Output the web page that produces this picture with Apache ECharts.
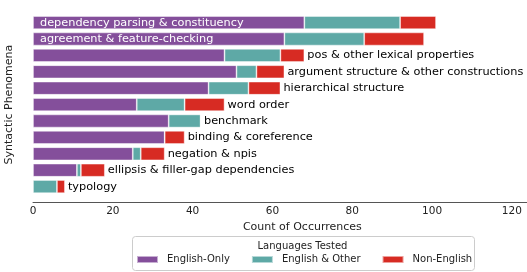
<!DOCTYPE html>
<html>
<head>
<meta charset="utf-8">
<script src="https://cdn.jsdelivr.net/npm/echarts@6/dist/echarts.min.js"></script>
<style>html,body{margin:0;padding:0;background:#fff}#c{width:527px;height:272px}</style>
</head>
<body>
<div id="c"></div>
<script>
const categories = [
  "dependency parsing & constituency",
  "agreement & feature-checking",
  "pos & other lexical properties",
  "argument structure & other constructions",
  "hierarchical structure",
  "word order",
  "benchmark",
  "binding & coreference",
  "negation & npis",
  "ellipsis & filler-gap dependencies",
  "typology"
];
const englishOnly  = [68, 63, 48, 51, 44, 26, 34, 33, 25, 11, 0];
const englishOther = [24, 20, 14, 5, 10, 12, 8, 0, 2, 1, 6];
const nonEnglish   = [9, 15, 6, 7, 8, 10, 0, 5, 6, 6, 2];
const seriesNames = ["English-Only", "English & Other", "Non-English"];
const xTicks = [0, 20, 40, 60, 80, 100, 120];
const insideLabelCount = 2;

const FONT = "DejaVu Sans";
const colors = ["#844f9b", "#5ea9a6", "#d72b23"];

const chart = echarts.init(document.getElementById('c'), null, {renderer: 'canvas'});

const purpleData = englishOnly.map((v, i) => ({
  value: v,
  label: i < insideLabelCount ? {
    show: true, position: 'insideLeft', distance: 7, color: '#fff',
    fontFamily: FONT, fontSize: 11.3, formatter: () => categories[i]
  } : {show: false}
}));
const redData = nonEnglish.map((v, i) => ({
  value: v,
  label: i >= insideLabelCount ? {
    show: true, position: 'right', distance: 3, color: '#000',
    fontFamily: FONT, fontSize: 11.3, formatter: () => categories[i]
  } : {show: false}
}));

const barBase = {
  type: 'bar', stack: 'total', barCategoryGap: '20%',
  itemStyle: {borderColor: 'rgba(255,255,255,0.55)', borderWidth: 0.8},
  emphasis: {disabled: true}, animation: false
};

chart.setOption({
  animation: false,
  grid: {left: 33, top: 14.4, width: 538.7, height: 180.4, containLabel: false, outerBoundsMode: 'none'},
  xAxis: {
    type: 'value', min: 0, max: 135, interval: 20, offset: 7,
    axisLine: {show: true, lineStyle: {color: '#555', width: 1}},
    axisTick: {show: false},
    splitLine: {show: false},
    axisLabel: {
      fontFamily: FONT, fontSize: 10.5, color: '#222', margin: 4,
      formatter: v => xTicks.includes(v) ? String(v) : ''
    },
    name: 'Count of Occurrences', nameLocation: 'middle', nameGap: 17,
    nameTextStyle: {fontFamily: FONT, fontSize: 11, color: '#222'}
  },
  yAxis: {
    type: 'category', data: categories, inverse: true,
    axisLine: {show: false}, axisTick: {show: false}, axisLabel: {show: false},
    name: 'Syntactic Phenomena', nameLocation: 'middle', nameRotate: 90, nameGap: 18,
    nameTextStyle: {fontFamily: FONT, fontSize: 11, color: '#222'}
  },
  legend: {
    data: seriesNames, left: 136, top: 254.5, padding: 0, icon: 'rect',
    itemWidth: 21, itemHeight: 7, itemGap: 21,
    textStyle: {fontFamily: FONT, fontSize: 10, color: '#222', padding: [0, 0, 0, 4]},
    selectedMode: false
  },
  graphic: [
    {type: 'rect', left: 132, top: 236, shape: {width: 342, height: 34, r: 3},
     style: {fill: 'rgba(255,255,255,0.8)', stroke: '#cccccc', lineWidth: 1}, z: -1},
    {type: 'text', x: 302.5, y: 246,
     style: {text: 'Languages Tested', fontFamily: FONT, fontSize: 10, fill: '#222', align: 'center', verticalAlign: 'middle'}}
  ],
  series: [
    Object.assign({}, barBase, {name: seriesNames[0], data: purpleData, itemStyle: Object.assign({}, barBase.itemStyle, {color: colors[0]})}),
    Object.assign({}, barBase, {name: seriesNames[1], data: englishOther, itemStyle: Object.assign({}, barBase.itemStyle, {color: colors[1]})}),
    Object.assign({}, barBase, {name: seriesNames[2], data: redData, itemStyle: Object.assign({}, barBase.itemStyle, {color: colors[2]})})
  ]
});
</script>
</body>
</html>
